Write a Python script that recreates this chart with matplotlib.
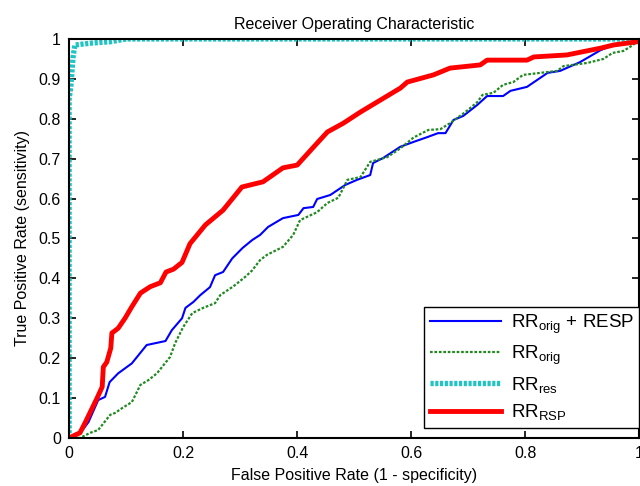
import matplotlib
matplotlib.use("Agg")
import matplotlib.pyplot as plt

plt.rcParams['font.family'] = ['Liberation Sans', 'DejaVu Sans']
plt.rcParams['mathtext.fontset'] = 'custom'
plt.rcParams['mathtext.rm'] = 'Liberation Sans'
plt.rcParams['mathtext.it'] = 'Liberation Sans:italic'
plt.rcParams['mathtext.bf'] = 'Liberation Sans:bold'

# RR_orig + RESP (blue)
blue_x = [0, 0.01, 0.02, 0.034, 0.051, 0.063, 0.071, 0.086, 0.110, 0.136, 0.169, 0.180, 0.198,
          0.204, 0.218, 0.230, 0.247, 0.256, 0.270, 0.286, 0.304, 0.321, 0.335, 0.349, 0.375,
          0.402, 0.411, 0.428, 0.435, 0.458, 0.484, 0.505, 0.528, 0.533, 0.551, 0.581, 0.604,
          0.628, 0.647, 0.660, 0.674, 0.691, 0.716, 0.733, 0.761, 0.774, 0.803, 0.839, 0.861,
          0.896, 0.932, 0.955, 0.99, 1.0]
blue_y = [0, 0.01, 0.013, 0.040, 0.095, 0.103, 0.14, 0.162, 0.187, 0.233, 0.243, 0.27, 0.30,
          0.326, 0.341, 0.358, 0.378, 0.408, 0.416, 0.45, 0.476, 0.496, 0.509, 0.529, 0.551,
          0.559, 0.576, 0.579, 0.599, 0.609, 0.634, 0.647, 0.659, 0.689, 0.702, 0.73, 0.742,
          0.754, 0.764, 0.764, 0.797, 0.807, 0.835, 0.857, 0.857, 0.870, 0.880, 0.915, 0.920,
          0.942, 0.972, 0.985, 0.993, 1.0]

# RR_orig (green)
green_x = [0, 0.019, 0.037, 0.051, 0.072, 0.081, 0.093, 0.110, 0.125, 0.139, 0.154, 0.177,
           0.186, 0.200, 0.216, 0.235, 0.256, 0.265, 0.288, 0.309, 0.321, 0.335, 0.347, 0.375,
           0.393, 0.405, 0.435, 0.453, 0.472, 0.481, 0.488, 0.511, 0.528, 0.558, 0.581, 0.604,
           0.630, 0.651, 0.668, 0.695, 0.716, 0.725, 0.744, 0.761, 0.779, 0.796, 0.826, 0.856,
           0.867, 0.909, 0.937, 0.953, 0.972, 0.989, 1.0]
green_y = [0, 0.0, 0.013, 0.02, 0.058, 0.063, 0.075, 0.09, 0.133, 0.145, 0.162, 0.203,
           0.238, 0.278, 0.313, 0.326, 0.338, 0.358, 0.38, 0.404, 0.42, 0.446, 0.459, 0.479,
           0.509, 0.546, 0.566, 0.589, 0.602, 0.627, 0.647, 0.654, 0.692, 0.704, 0.726, 0.753,
           0.772, 0.774, 0.789, 0.817, 0.842, 0.860, 0.865, 0.885, 0.892, 0.910, 0.915, 0.920,
           0.932, 0.940, 0.950, 0.965, 0.970, 0.985, 1.0]

# RR_res (cyan)
cyan_x = [0, 0, 0.003, 0.007, 0.01, 0.042, 0.072, 0.1, 1.0]
cyan_y = [0, 0.85, 0.88, 0.955, 0.985, 0.99, 0.993, 1.0, 1.0]

# RR_RSP (red)
red_x = [0, 0.019, 0.028, 0.049, 0.058, 0.060, 0.066, 0.073, 0.075, 0.086, 0.098, 0.110,
         0.125, 0.142, 0.160, 0.170, 0.183, 0.198, 0.212, 0.239, 0.270, 0.303, 0.340, 0.375,
         0.400, 0.435, 0.453, 0.481, 0.511, 0.546, 0.581, 0.593, 0.639, 0.668, 0.721, 0.733,
         0.803, 0.815, 0.873, 0.932, 0.955, 0.996, 1.0]
red_y = [0, 0.013, 0.038, 0.10, 0.128, 0.178, 0.19, 0.225, 0.263, 0.275, 0.30, 0.329,
         0.363, 0.379, 0.389, 0.416, 0.423, 0.440, 0.487, 0.534, 0.571, 0.629, 0.642, 0.677,
         0.684, 0.739, 0.767, 0.789, 0.817, 0.847, 0.877, 0.892, 0.910, 0.927, 0.935, 0.947,
         0.947, 0.955, 0.960, 0.977, 0.985, 0.993, 1.0]

labels = [r'RR$_{\mathrm{orig}}$ + RESP', r'RR$_{\mathrm{orig}}$',
          r'RR$_{\mathrm{res}}$', r'RR$_{\mathrm{RSP}}$']
xticks = [0, 0.2, 0.4, 0.6, 0.8, 1]
xticklabels = ['0', '0.2', '0.4', '0.6', '0.8', '1']
yticks = [0, 0.1, 0.2, 0.3, 0.4, 0.5, 0.6, 0.7, 0.8, 0.9, 1]
yticklabels = ['0', '0.1', '0.2', '0.3', '0.4', '0.5', '0.6', '0.7', '0.8', '0.9', '1']

fig = plt.figure(figsize=(6.4, 4.86), dpi=100)
ax = fig.add_axes([0.108, 0.0988, 0.891, 0.821])

ax.plot(blue_x, blue_y, color='#0000ff', lw=1.5, label=labels[0])
ax.plot(green_x, green_y, color='#1f8a1f', lw=1.6, ls=(0, (1.2, 0.8)), label=labels[1])
ax.plot(cyan_x, cyan_y, color='#1fc4c4', lw=3.8, ls=(0, (0.6, 0.3)), label=labels[2])
ax.plot(red_x, red_y, color='#ff0000', lw=3.5, label=labels[3])

ax.set_xlim(0, 1)
ax.set_ylim(0, 1)
ax.set_xticks(xticks)
ax.set_xticklabels(xticklabels)
ax.set_yticks(yticks)
ax.set_yticklabels(yticklabels)
ax.tick_params(direction='in', top=True, right=True, labelsize=11.5, length=5, width=1.2, pad=6)
for s in ax.spines.values():
    s.set_linewidth(1.5)

ax.set_title('Receiver Operating Characteristic', fontsize=11.5, pad=7)
ax.set_xlabel('False Positive Rate (1 - specificity)', fontsize=11.5, labelpad=5)
ax.set_ylabel('True Positive Rate (sensitivity)', fontsize=11.5, labelpad=6)

leg = ax.legend(loc='lower right', bbox_to_anchor=(1.0, 0.025), fontsize=13.5, frameon=True,
                fancybox=False, edgecolor='black', handlelength=3.8, labelspacing=0.42,
                borderaxespad=0.0, handletextpad=0.5, borderpad=0.3, framealpha=1)
leg.get_frame().set_linewidth(1.0)

fig.savefig('out.png', dpi=100)
